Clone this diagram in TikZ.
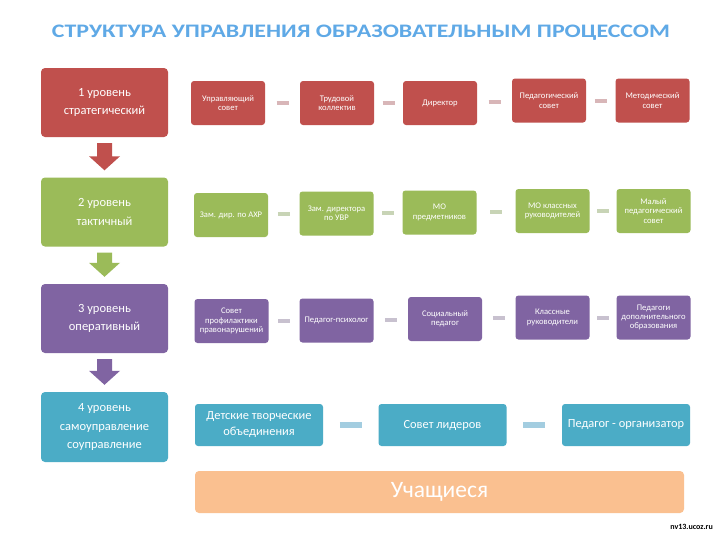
\documentclass[tikz,border=0pt]{standalone}
\usepackage{fontspec}
\setmainfont{Carlito}
\usetikzlibrary{calc}

\definecolor{redlvl}{HTML}{C0504D}
\definecolor{greenlvl}{HTML}{9BBB59}
\definecolor{purplelvl}{HTML}{8064A2}
\definecolor{tealvl}{HTML}{4BACC6}
\definecolor{pupils}{HTML}{FAC090}
\definecolor{titleblue}{HTML}{5FA9E6}
\definecolor{redlink}{HTML}{D8B6B8}
\definecolor{greenlink}{HTML}{C8D4B6}
\definecolor{purplelink}{HTML}{C8C1CF}
\definecolor{teallink}{HTML}{A3CDE0}

\tikzset{
  level/.style={fill=#1, rounded corners=4pt, text=white, align=center,
    minimum width=127pt, minimum height=69pt, inner sep=2pt,
    font=\fontsize{12.5}{18.5}\selectfont},
  unit/.style={fill=#1, rounded corners=3pt, text=white, align=center,
    minimum width=74pt, minimum height=44pt, inner sep=1pt,
    font=\fontsize{8.6}{9.4}\selectfont},
  wideunit/.style={fill=tealvl, rounded corners=3pt, text=white, align=center,
    minimum width=128pt, minimum height=42pt, inner sep=1pt,
    font=\fontsize{12.4}{16}\selectfont},
  link/.style={draw=#1, line width=4pt},
}

% dash between two boxes of a row
\newcommand\rowlink[4]{\path ($(#1.east)!0.5!(#2.west)$) coordinate (m);
  \draw[link=#3] ($(m)+(-#4,0)$) -- ($(m)+(#4,0)$);}
% block arrow from one level to the next
\newcommand\levelarrow[3]{\fill[#3] ($(#1.south)+(-7.5,6)$) -- ($(#1.south)+(7.5,6)$)
  -- ($(#2.north)+(7.5,-21)$) -- ($(#2.north)+(15.5,-21)$) -- ($(#2.north)+(0,-7)$)
  -- ($(#2.north)+(-15.5,-21)$) -- ($(#2.north)+(-7.5,-21)$) -- cycle;}

\begin{document}
\begin{tikzpicture}[x=1pt, y=-1pt]
  \useasboundingbox[fill=white] (0,0) rectangle (717,536);

  % title
  \node[anchor=base, text=titleblue, inner sep=0] (title) at (361,37)
    {\resizebox{618pt}{12.5pt}{\bfseries СТРУКТУРА УПРАВЛЕНИЯ ОБРАЗОВАТЕЛЬНЫМ ПРОЦЕССОМ}};

  % levels
  \node[level=redlvl] (lvl1) at (104.5,102.5) {1 уровень\\стратегический};
  \node[level=greenlvl] (lvl2) at (104.5,212) {2 уровень\\тактичный};
  \node[level=purplelvl] (lvl3) at (104.5,318.5) {3 уровень\\оперативный};
  \node[level=tealvl, minimum height=70pt] (lvl4) at (104.5,427) {4 уровень\\самоуправление\\соуправление};

  \levelarrow{lvl1}{lvl2}{redlvl}
  \levelarrow{lvl2}{lvl3}{greenlvl}
  \levelarrow{lvl3}{lvl4}{purplelvl}

  % strategic row
  \node[unit=redlvl] (upr) at (228,103) {Управляющий\\совет};
  \node[unit=redlvl] (trud) at (337,103) {Трудовой\\коллектив};
  \node[unit=redlvl] (dir) at (440,103) {Директор};
  \node[unit=redlvl] (pedsov) at (549,100.5) {Педагогический\\совет};
  \node[unit=redlvl] (metsov) at (652.5,100.5) {Методический\\совет};
  \rowlink{upr}{trud}{redlink}{6}
  \rowlink{trud}{dir}{redlink}{6}
  \rowlink{dir}{pedsov}{redlink}{6}
  \rowlink{pedsov}{metsov}{redlink}{6}

  % tactical row
  \node[unit=greenlvl] (zamahr) at (231,215) {Зам. дир. по АХР};
  \node[unit=greenlvl] (zamuvr) at (336.5,213.5) {Зам. директора\\по УВР};
  \node[unit=greenlvl] (mopred) at (439.5,212.5) {МО\\предметников};
  \node[unit=greenlvl] (mokl) at (552.5,211) {МО классных\\руководителей};
  \node[unit=greenlvl] (malsov) at (653.5,211) {Малый\\педагогический\\совет};
  \rowlink{zamahr}{zamuvr}{greenlink}{6}
  \rowlink{zamuvr}{mopred}{greenlink}{6}
  \rowlink{mopred}{mokl}{greenlink}{6}
  \rowlink{mokl}{malsov}{greenlink}{6}

  % operative row
  \node[unit=purplelvl] (profil) at (231.5,321) {Совет\\профилактики\\правонарушений};
  \node[unit=purplelvl] (psych) at (336.5,320.5) {Педагог-психолог};
  \node[unit=purplelvl] (socped) at (445,319) {Социальный\\педагог};
  \node[unit=purplelvl] (klruk) at (552.5,317.5) {Классные\\руководители};
  \node[unit=purplelvl] (dopobr) at (653.5,317.5) {Педагоги\\дополнительного\\образования};
  \rowlink{profil}{psych}{purplelink}{6}
  \rowlink{psych}{socped}{purplelink}{6}
  \rowlink{socped}{klruk}{purplelink}{6}
  \rowlink{klruk}{dopobr}{purplelink}{6}

  % self-government row
  \node[wideunit] (detob) at (259,425) {Детские творческие\\объединения};
  \node[wideunit] (lider) at (442.5,425) {Совет лидеров};
  \node[wideunit] (orgped) at (626,425) {Педагог - организатор};
  \draw[link=teallink, line width=6pt] ($(detob.east)!0.5!(lider.west)+(-11,0)$) -- ($(detob.east)!0.5!(lider.west)+(11,0)$);
  \draw[link=teallink, line width=6pt] ($(lider.east)!0.5!(orgped.west)+(-11,0)$) -- ($(lider.east)!0.5!(orgped.west)+(11,0)$);

  % pupils
  \node[fill=pupils, rounded corners=4pt, text=white, minimum width=489pt, minimum height=42pt,
    font=\fontsize{23.5}{26}\selectfont] (pupil) at (439.5,492) {Учащиеся};

  \node[anchor=east, font=\bfseries\fontsize{8}{9}\selectfont, inner sep=0] (site) at (713,527) {nv13.ucoz.ru};
\end{tikzpicture}
\end{document}
